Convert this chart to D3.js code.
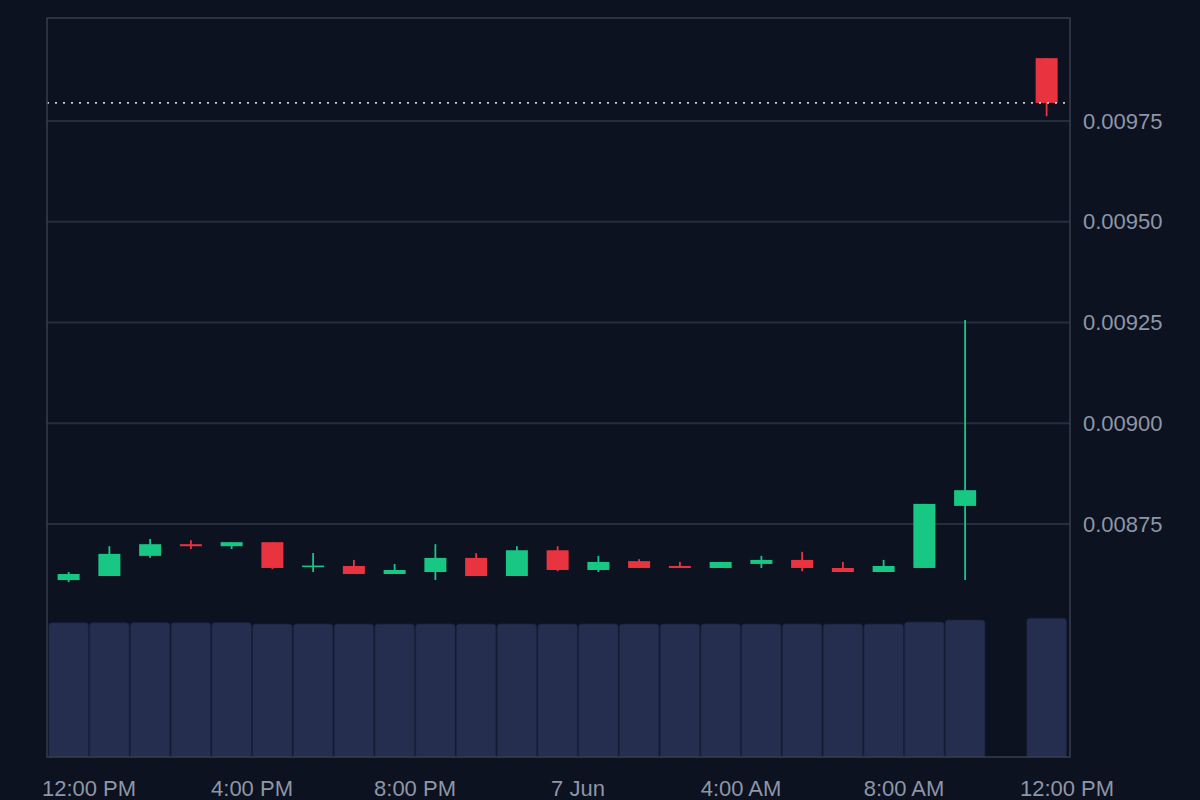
<!DOCTYPE html>
<html>
<head>
<meta charset="utf-8">
<script src="https://cdn.jsdelivr.net/npm/d3@7"></script>
<style>
  html, body { margin: 0; padding: 0; background: #0c1220; }
  svg { display: block; }
</style>
</head>
<body>
<svg id="chart" width="1200" height="800"></svg>
<script>
// ---- data ----
const times = [
  "2024-06-06T11:00","2024-06-06T12:00","2024-06-06T13:00","2024-06-06T14:00",
  "2024-06-06T15:00","2024-06-06T16:00","2024-06-06T17:00","2024-06-06T18:00",
  "2024-06-06T19:00","2024-06-06T20:00","2024-06-06T21:00","2024-06-06T22:00",
  "2024-06-06T23:00","2024-06-07T00:00","2024-06-07T01:00","2024-06-07T02:00",
  "2024-06-07T03:00","2024-06-07T04:00","2024-06-07T05:00","2024-06-07T06:00",
  "2024-06-07T07:00","2024-06-07T08:00","2024-06-07T09:00","2024-06-07T11:00"
];
const open  = [0.008611,0.008621,0.008671,0.008700,0.008695,0.008705,0.008643,0.008646,
               0.008626,0.008631,0.008666,0.008621,0.008685,0.008636,0.008658,0.008646,
               0.008641,0.008651,0.008661,0.008641,0.008631,0.008641,0.008795,0.009906];
const high  = [0.008631,0.008695,0.008713,0.008710,0.008705,0.008705,0.008678,0.008661,
               0.008651,0.008700,0.008678,0.008695,0.008695,0.008671,0.008663,0.008656,
               0.008656,0.008671,0.008681,0.008656,0.008661,0.008800,0.009256,0.009906];
const low   = [0.008606,0.008621,0.008666,0.008688,0.008688,0.008638,0.008631,0.008626,
               0.008626,0.008611,0.008621,0.008621,0.008633,0.008631,0.008641,0.008641,
               0.008641,0.008641,0.008633,0.008631,0.008631,0.008641,0.008611,0.009762];
const close = [0.008626,0.008676,0.008700,0.008695,0.008705,0.008641,0.008647,0.008626,
               0.008636,0.008666,0.008621,0.008685,0.008636,0.008656,0.008641,0.008641,
               0.008656,0.008661,0.008641,0.008631,0.008646,0.008800,0.008834,0.009795];
const volume = [1343,1343,1344,1343,1344,1330,1331,1330,1330,1331,1330,1331,
                1330,1331,1330,1330,1331,1330,1331,1330,1330,1350,1370,1388];
const priceTicks = [0.00875, 0.00900, 0.00925, 0.00950, 0.00975];
const timeTicks = ["2024-06-06T12:00","2024-06-06T16:00","2024-06-06T20:00","2024-06-07T00:00",
                   "2024-06-07T04:00","2024-06-07T08:00","2024-06-07T12:00"];

// ---- layout ----
const L = 47, R = 1070, T = 18, B = 757;
const parse = d3.timeParse("%Y-%m-%dT%H:%M");
const hour = 3600 * 1000;
const data = times.map((t, i) => ({
  t: parse(t), o: open[i], h: high[i], l: low[i], c: close[i], v: volume[i]
}));

const x = d3.scaleTime()
  .domain([parse("2024-06-06T11:00"), parse("2024-06-07T12:00")])
  .range([48.25, 1067]);
const y = d3.scaleLinear().domain([0.008172, 0.0100056]).range([B, T]);
const yv = d3.scaleLinear().domain([0, d3.max(volume)]).range([B, 618.3]);

const svg = d3.select("#chart");
svg.append("rect").attr("width", 1200).attr("height", 800).attr("fill", "#0c1220");

const GREEN = "#18c784", RED = "#e9333f";
const txt = "#8e96a7";
const font = "'Liberation Sans', Arial, Helvetica, sans-serif";

// volume bars (rounded top corners)
const step = x(new Date(x.domain()[0].getTime() + hour)) - x(x.domain()[0]);
const vol = svg.append("g");
data.forEach(d => {
  const x0 = x(d.t) + 0.6, x1 = x(new Date(d.t.getTime() + hour)) - 0.6;
  const top = yv(d.v), r = 3;
  vol.append("path")
    .attr("d", `M${x0},${B} L${x0},${top + r} Q${x0},${top} ${x0 + r},${top} L${x1 - r},${top} Q${x1},${top} ${x1},${top + r} L${x1},${B} Z`)
    .attr("fill", "#252e4f")
    .attr("stroke", "#1b2340").attr("stroke-width", 0.8);
});

// grid lines
svg.append("g").selectAll("line").data(priceTicks).join("line")
  .attr("x1", L).attr("x2", R)
  .attr("y1", d => y(d)).attr("y2", d => y(d))
  .attr("stroke", "#262d3c").attr("stroke-width", 2);

// candles
const cw = 22;
const cg = svg.append("g");
data.forEach(d => {
  const cx = x(new Date(d.t.getTime() + hour / 2));
  const col = d.c >= d.o ? GREEN : RED;
  cg.append("line")
    .attr("x1", cx).attr("x2", cx)
    .attr("y1", y(d.h)).attr("y2", y(d.l))
    .attr("stroke", col).attr("stroke-width", 1.8);
  const yt = y(Math.max(d.o, d.c)), yb = y(Math.min(d.o, d.c));
  cg.append("rect")
    .attr("x", cx - cw / 2).attr("width", cw)
    .attr("y", yt).attr("height", Math.max(1.5, yb - yt))
    .attr("fill", col);
});

// last price dotted line
const last = data[data.length - 1].c;
svg.append("line")
  .attr("x1", L).attr("x2", R)
  .attr("y1", y(last)).attr("y2", y(last))
  .attr("stroke", "#c9cdd8").attr("stroke-width", 1.6)
  .attr("stroke-dasharray", "2,6");

// frame
svg.append("rect")
  .attr("x", L).attr("y", T).attr("width", R - L).attr("height", B - T)
  .attr("fill", "none").attr("stroke", "#383e4d").attr("stroke-width", 1.5);

// price axis labels
svg.append("g").selectAll("text").data(priceTicks).join("text")
  .attr("x", 1083).attr("y", d => y(d))
  .attr("dy", "0.35em")
  .attr("fill", txt).attr("font-family", font).attr("font-size", 22)
  .text(d => d3.format(".5f")(d));

// time axis labels
const fmtHour = d3.timeFormat("%-I:%M %p");
const fmtDay = d3.timeFormat("%-d %b");
svg.append("g").selectAll("text").data(timeTicks.map(parse)).join("text")
  .attr("x", d => x(d)).attr("y", 796)
  .attr("text-anchor", "middle")
  .attr("fill", txt).attr("font-family", font).attr("font-size", 22)
  .text(d => d.getHours() === 0 ? fmtDay(d) : fmtHour(d));
</script>
</body>
</html>
